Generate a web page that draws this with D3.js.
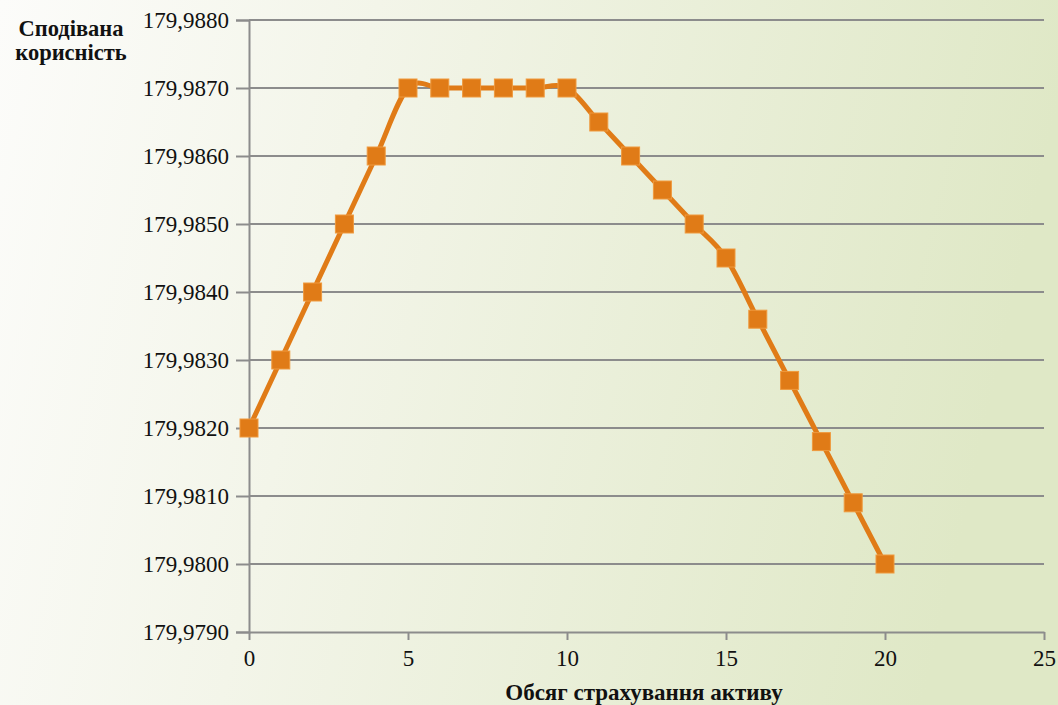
<!DOCTYPE html>
<html>
<head>
<meta charset="utf-8">
<script src="https://cdn.jsdelivr.net/npm/d3@7/dist/d3.min.js"></script>
<style>
  html, body { margin: 0; padding: 0; }
  body { width: 1058px; height: 705px; overflow: hidden; }
  svg { display: block; }
</style>
</head>
<body>
<svg id="chart" width="1058" height="705"></svg>
<script>
// Insurance volume (x) vs expected utility (y)
const volumes = [0, 1, 2, 3, 4, 5, 6, 7, 8, 9, 10, 11, 12, 13, 14, 15, 16, 17, 18, 19, 20];
const utility = [179.9820, 179.9830, 179.9840, 179.9850, 179.9860, 179.9870, 179.9870, 179.9870,
                 179.9870, 179.9870, 179.9870, 179.9865, 179.9860, 179.9855, 179.9850, 179.9845,
                 179.9836, 179.9827, 179.9818, 179.9809, 179.9800];
const xTicks = [0, 5, 10, 15, 20, 25];
const yTicks = [179.9790, 179.9800, 179.9810, 179.9820, 179.9830, 179.9840, 179.9850, 179.9860, 179.9870, 179.9880];
const yTitleLines = ["Сподівана", "корисність"];
const xTitle = "Обсяг страхування активу";

const FONT = "Liberation Serif";
const svg = d3.select("#chart");
const W = 1058, H = 705;
const plot = { left: 249, right: 1044, top: 20, bottom: 632 };

// Apply the serif face to a text selection
function serif(sel, size, bold) {
  sel.attr("font-family", FONT).style("font-family", FONT)
     .attr("font-size", size).style("font-size", size + "px")
     .style("font-weight", bold ? "bold" : "normal")
     .attr("fill", "#111");
  return sel;
}

// Background wash: white on the left fading to pale green on the right
const defs = svg.append("defs");
const grad = defs.append("linearGradient").attr("id", "bg").attr("x1", "0").attr("y1", "0").attr("x2", "1").attr("y2", "0.15");
grad.append("stop").attr("offset", "0").attr("stop-color", "#fcfcfa");
grad.append("stop").attr("offset", "0.35").attr("stop-color", "#f3f5e9");
grad.append("stop").attr("offset", "1").attr("stop-color", "#dfe8c6");
svg.append("rect").attr("width", W).attr("height", H).attr("fill", "url(#bg)");

const x = d3.scaleLinear().domain([0, 25]).range([plot.left, plot.right]);
const y = d3.scaleLinear().domain([179.9790, 179.9880]).range([plot.bottom, plot.top]);

const fmtY = v => d3.format(".4f")(v).replace(".", ",");
const gridColor = "#8c8c8c";

// Horizontal gridlines
svg.append("g").selectAll("line").data(yTicks.slice(1)).join("line")
  .attr("x1", plot.left).attr("x2", plot.right)
  .attr("y1", d => y(d)).attr("y2", d => y(d))
  .attr("stroke", gridColor).attr("stroke-width", 2);

// Y axis
const yAxis = svg.append("g").attr("transform", `translate(${plot.left},0)`)
  .call(d3.axisLeft(y).tickValues(yTicks).tickFormat(fmtY).tickSize(13).tickPadding(7))
  .attr("font-family", FONT).attr("font-size", 23);
yAxis.select(".domain").attr("stroke", gridColor).attr("stroke-width", 2);
yAxis.selectAll(".tick line").attr("stroke", gridColor).attr("stroke-width", 2);
serif(yAxis.selectAll(".tick text"), 23, false);

// X axis
const xAxis = svg.append("g").attr("transform", `translate(0,${plot.bottom})`)
  .call(d3.axisBottom(x).tickValues(xTicks).tickFormat(d3.format("d")).tickSize(8).tickSizeOuter(0).tickPadding(10))
  .attr("font-family", FONT).attr("font-size", 23);
xAxis.select(".domain").attr("stroke", gridColor).attr("stroke-width", 2);
xAxis.selectAll(".tick line").attr("stroke", gridColor).attr("stroke-width", 2);
serif(xAxis.selectAll(".tick text"), 23, false);

// Series line (smoothed)
const pts = volumes.map((v, i) => [v, utility[i]]);
const line = d3.line().x(d => x(d[0])).y(d => y(d[1])).curve(d3.curveCatmullRom.alpha(0));
svg.append("path").datum(pts).attr("d", line)
  .attr("fill", "none").attr("stroke", "#e07b17").attr("stroke-width", 5).attr("stroke-linejoin", "round");

// Square markers
const ms = 18;
svg.append("g").selectAll("rect").data(pts).join("rect")
  .attr("x", d => x(d[0]) - ms / 2).attr("y", d => y(d[1]) - ms / 2)
  .attr("width", ms).attr("height", ms)
  .attr("fill", "#e07b17").attr("stroke", "#ef9a3e").attr("stroke-width", 1);

// Axis titles
svg.append("g").selectAll("text").data(yTitleLines).join("text")
  .attr("x", 71).attr("y", (d, i) => 36 + i * 24)
  .attr("text-anchor", "middle").text(d => d)
  .call(serif, 22.5, true);

svg.append("text").attr("x", 644).attr("y", 700)
  .attr("text-anchor", "middle").text(xTitle)
  .call(serif, 23, true);
</script>
</body>
</html>
